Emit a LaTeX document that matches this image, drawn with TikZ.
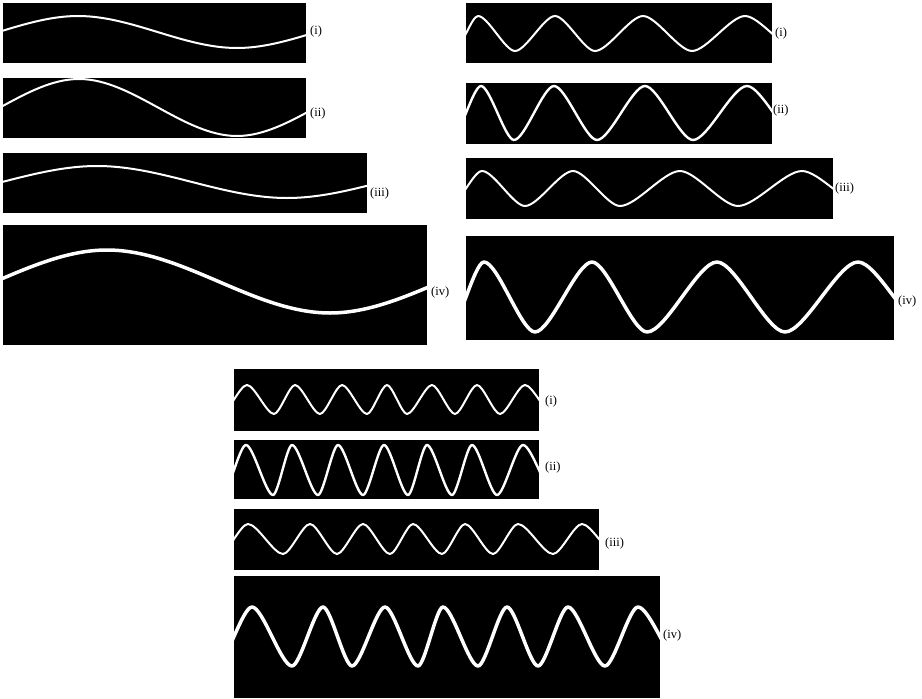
\documentclass[tikz,border=0pt]{standalone}
\usepackage{fontspec}
\setmainfont{Liberation Serif}
\newcommand\wk{0.34}
% #1,#2 top-left; #3,#4 bottom-right; #5 line width; #6,#7 first (virtual) extremum; #8 further extrema x/y
\newcommand\wavebox[8]{%
  \fill[black] (#1,#2) rectangle (#3,#4);
  \begin{scope}
    \clip (#1,#2) rectangle (#3,#4);
    \draw[white, line width=#5, line join=round, line cap=round] (#6,#7)
      \foreach \px/\py [remember=\px as \lx (initially #6)] in {#8}
      { .. controls +({\wk*(\px-(\lx))},0) and +({-\wk*(\px-(\lx))},0) .. (\px,\py) };
  \end{scope}}
\begin{document}
\begin{tikzpicture}[x=1pt,y=-1pt,
  lab/.style={anchor=west, inner sep=0pt, font=\fontsize{12.5}{14}\selectfont}]
\useasboundingbox (0,0) rectangle (922,699);
% ---------- group 1 ----------
\wavebox{3}{3}{306}{63}{2pt}{-81}{48}{78/16,237/48,396/16}
\wavebox{3}{78}{306}{138}{2pt}{-79}{136}{79/79,237/136,395/79}
\wavebox{3}{153}{367}{213}{2pt}{-93}{198}{97/166,287/198,477/166}
\wavebox{3}{225}{427}{345}{3.5pt}{-116}{313}{107/250,330/313,553/250}
\node[lab] (a1) at (310,31) {(i)};
\node[lab] (a2) at (310,113) {(ii)};
\node[lab] (a3) at (370,193) {(iii)};
\node[lab] (a4) at (431,292) {(iv)};
% ---------- group 2 ----------
\renewcommand\wk{0.27}
\wavebox{466}{3}{772}{63}{2pt}{454}{51}{478/16,515/51,555/16,595/51,643/16,692/51,745/16,799/51}
\wavebox{466}{83}{772}{144}{2.4pt}{451}{140}{481/86,514/140,554/86,597/140,645/86,693/140,747/86,800/140}
\wavebox{466}{158}{833}{219}{2pt}{450}{206}{482/171,525/206,573/171,620/206,680/171,738/206,802/171,864/206}
\wavebox{466}{236}{894}{340}{3.5pt}{448}{332}{484/262,535/332,592/262,647/332,717/262,785/332,858/262,930/332}
\node[lab] (b1) at (775,33) {(i)};
\node[lab] (b2) at (773,110) {(ii)};
\node[lab] (b3) at (835,188) {(iii)};
\node[lab] (b4) at (898,301) {(iv)};
% ---------- group 3 ----------
\wavebox{234}{369}{539}{431}{2pt}{221}{414}{247/385,274/414,295/385,320/414,342/385,367/414,387/385,407/414,432/385,455/414,477/385,500/414,525/385,553/414}
\wavebox{234}{440}{539}{499}{2.4pt}{222}{495}{246/445,273/495,292/445,318/495,338/445,363/495,384/445,408/495,427/445,452/495,472/445,497/495,523/445,555/495}
\wavebox{234}{509}{599}{570}{2pt}{220}{554}{248/524,283/554,310/524,337/554,363/524,390/554,413/524,442/554,465/524,493/554,518/524,553/554,582/524,616/554}
\wavebox{234}{576}{660}{698}{3.5pt}{216}{666}{252/607,292/666,323/607,352/666,385/607,418/666,443/607,478/666,507/607,538/666,568/607,605/666,638/607,682/666}
\node[lab] (c1) at (545,401) {(i)};
\node[lab] (c2) at (545,467) {(ii)};
\node[lab] (c3) at (605,543) {(iii)};
\node[lab] (c4) at (663,635) {(iv)};
\end{tikzpicture}
\end{document}
